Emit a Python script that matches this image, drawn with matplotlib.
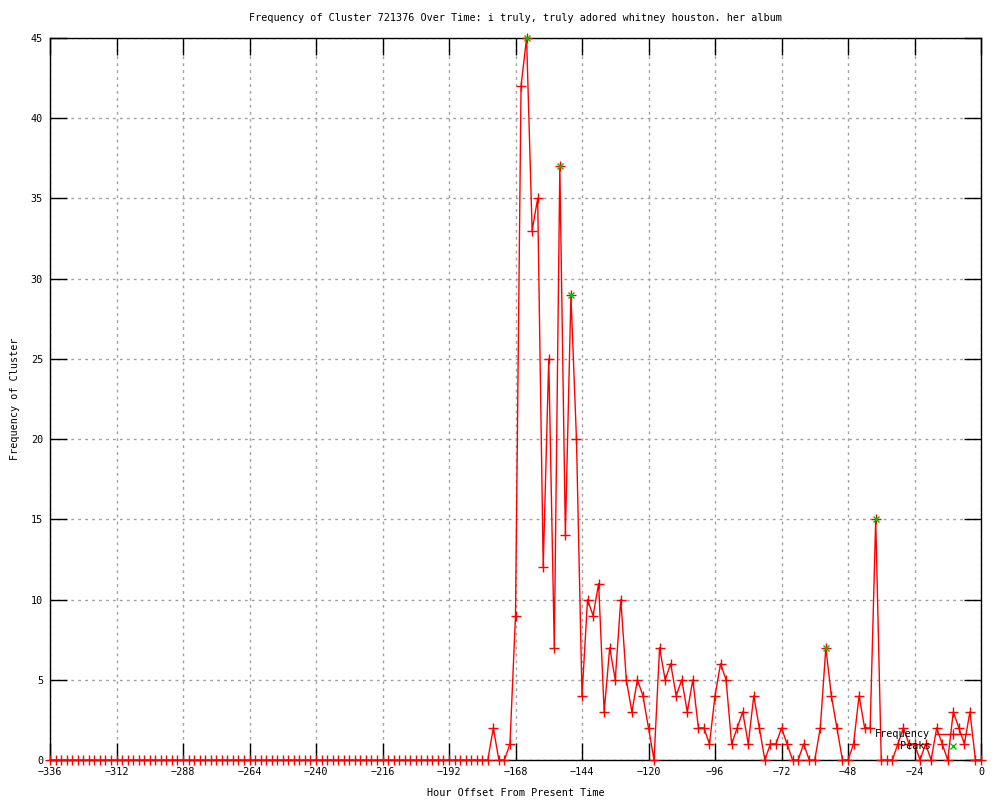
import matplotlib
matplotlib.use("Agg")
import matplotlib.pyplot as plt
from matplotlib.lines import Line2D

# hour offsets, one sample every 2 hours
hours = list(range(-336, 1, 2))

freq = [
    # -336 .. -178
    0, 0, 0, 0, 0, 0, 0, 0, 0, 0, 0, 0, 0, 0, 0, 0, 0, 0, 0, 0,
    0, 0, 0, 0, 0, 0, 0, 0, 0, 0, 0, 0, 0, 0, 0, 0, 0, 0, 0, 0,
    0, 0, 0, 0, 0, 0, 0, 0, 0, 0, 0, 0, 0, 0, 0, 0, 0, 0, 0, 0,
    0, 0, 0, 0, 0, 0, 0, 0, 0, 0, 0, 0, 0, 0, 0, 0, 0, 0, 0, 0,
    # -176 .. -138
    2, 0, 0, 1, 9, 42, 45, 33, 35, 12, 25, 7, 37, 14, 29, 20, 4, 10, 9, 11,
    # -136 .. -98
    3, 7, 5, 10, 5, 3, 5, 4, 2, 0, 7, 5, 6, 4, 5, 3, 5, 2, 2, 1,
    # -96 .. -58
    4, 6, 5, 1, 2, 3, 1, 4, 2, 0, 1, 1, 2, 1, 0, 0, 1, 0, 0, 2,
    # -56 .. -18
    7, 4, 2, 0, 0, 1, 4, 2, 2, 15, 0, 0, 0, 1, 2, 1, 1, 0, 1, 0,
    # -16 .. 0
    2, 1, 0, 3, 2, 1, 3, 0, 0,
]

peak_hours = [-164, -152, -148, -56, -38]
peak_freq = [45, 37, 29, 7, 15]

xticks = list(range(-336, 1, 24))
yticks = list(range(0, 46, 5))

plt.rcParams["font.family"] = "DejaVu Sans Mono"
plt.rcParams["font.size"] = 7.3

fig = plt.figure(figsize=(10, 8), dpi=100)
ax = fig.add_axes([0.05, 0.05, 0.931, 0.9025])

ax.plot(hours, freq, color="#ff0000", lw=1, marker="+", ms=6.5, mew=1,
        clip_on=False, zorder=3)
ax.plot(peak_hours, peak_freq, ls="none", color="#00c000", marker="x",
        ms=5, mew=1, clip_on=False, zorder=4)

ax.set_xlim(-336, 0)
ax.set_ylim(0, 45)
ax.set_xticks(xticks)
ax.set_yticks(yticks)
ax.grid(True, color="#a0a0a0", linestyle=(0, (2, 3)), linewidth=1)
ax.tick_params(direction="in", length=12, width=1, top=True, right=True,
               pad=5, colors="black")
for s in ax.spines.values():
    s.set_linewidth(1)

ax.set_title("Frequency of Cluster 721376 Over Time: i truly, truly adored whitney houston. her album",
             fontsize=7.3, pad=12)
ax.set_xlabel("Hour Offset From Present Time", labelpad=8)
ax.set_ylabel("Frequency of Cluster", labelpad=8)

handles = [
    Line2D([], [], color="#ff0000", lw=1, marker="+", ms=6.5),
    Line2D([], [], color="#00c000", ls="none", marker="x", ms=5),
]
ax.legend(handles, ["Frequency", "Peaks"], loc="lower right",
          bbox_to_anchor=(0.988, 0.012), frameon=False, markerfirst=False,
          handlelength=3.3, handletextpad=0.6, labelspacing=0.2,
          borderpad=0, borderaxespad=0)

fig.savefig("out.png", dpi=100)
